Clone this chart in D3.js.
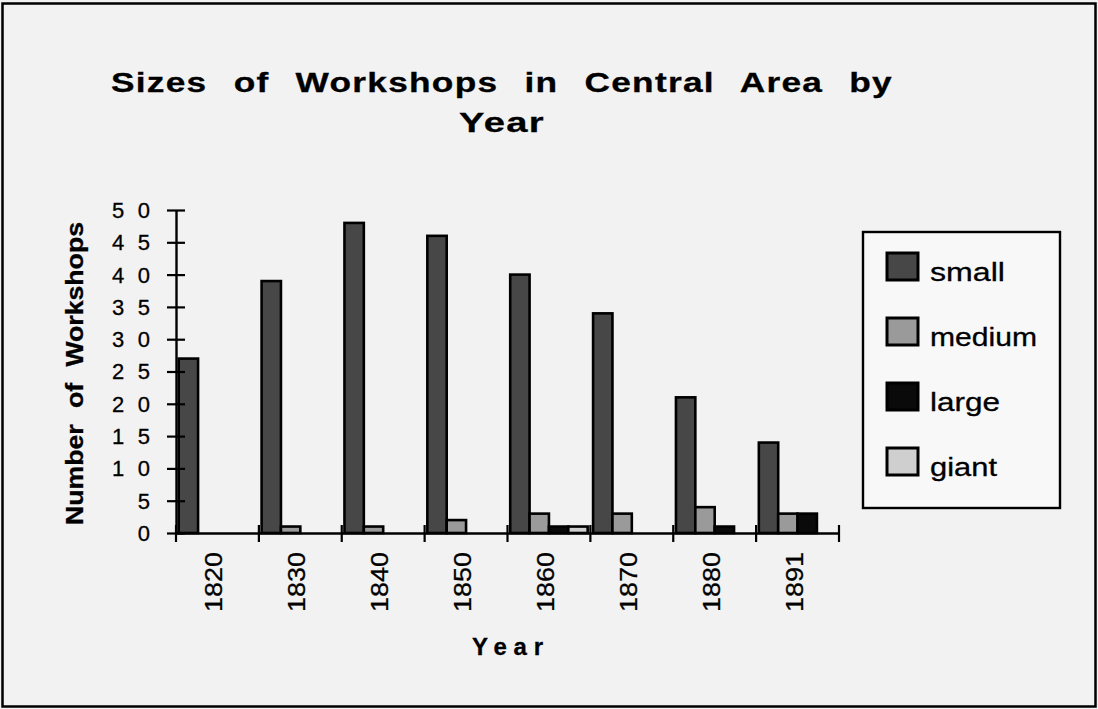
<!DOCTYPE html>
<html>
<head>
<meta charset="utf-8">
<script src="https://cdn.jsdelivr.net/npm/d3@7"></script>
<style>
  html, body { margin: 0; padding: 0; background: #f2f2f2; }
  svg { display: block; }
  text { font-family: "Liberation Sans", Arial, Helvetica, sans-serif; fill: #000; }
</style>
</head>
<body>
<script>
// ---- data ----
const years = ["1820", "1830", "1840", "1850", "1860", "1870", "1880", "1891"];
const seriesNames = ["small", "medium", "large", "giant"];
const small  = [27, 39, 48, 46, 40, 34, 21, 14];
const medium = [0, 1, 1, 2, 3, 3, 4, 3];
const large  = [0, 0, 0, 0, 1, 0, 1, 3];
const giant  = [0, 0, 0, 0, 1, 0, 0, 0];
const yTickValues = [0, 5, 10, 15, 20, 25, 30, 35, 40, 45, 50];
const seriesValues = [small, medium, large, giant];
const seriesColors = ["#474747", "#9a9a9a", "#0a0a0a", "#cfcfcf"];

const W = 1098, H = 709;
const svg = d3.select("body").append("svg").attr("width", W).attr("height", H);

svg.append("rect").attr("x", 0).attr("y", 0).attr("width", W).attr("height", H).attr("fill", "#f2f2f2");
svg.append("rect").attr("x", 2.5).attr("y", 3.5).attr("width", W - 5).attr("height", H - 6)
  .attr("fill", "none").attr("stroke", "#000").attr("stroke-width", 2.5);

// stretch text (glyphs and gaps) to a target length, with optional extra word gap
function fit(sel, target, wordGap) {
  sel.each(function() {
    const t = d3.select(this);
    if (wordGap) t.attr("word-spacing", wordGap);
    t.attr("textLength", target).attr("lengthAdjust", "spacingAndGlyphs");
  });
}

// title
svg.append("text").attr("x", 111).attr("y", 92)
  .attr("font-size", 28).attr("font-weight", "bold")
  .attr("stroke", "#000").attr("stroke-width", 0.3)
  .attr("letter-spacing", 1)
  .text("Sizes of Workshops in Central Area by").call(fit, 782, 12);
svg.append("text").attr("x", 459).attr("y", 132)
  .attr("font-size", 28).attr("font-weight", "bold")
  .attr("stroke", "#000").attr("stroke-width", 0.3)
  .attr("letter-spacing", 1)
  .text("Year").call(fit, 86);

// scales
const x = d3.scaleBand().domain(years).range([176, 839]).paddingInner(0).paddingOuter(0);
const xs = d3.scaleBand().domain(seriesNames).range([0, x.bandwidth()]).paddingInner(0).paddingOuter(0.14);
const y = d3.scaleLinear().domain([0, 50]).range([533, 210]);

// bars
const rows = [];
years.forEach((yr, i) => {
  seriesNames.forEach((s, j) => {
    const v = seriesValues[j][i];
    if (v > 0) rows.push({ year: yr, series: s, value: v, color: seriesColors[j] });
  });
});
svg.append("g").selectAll("rect").data(rows).join("rect")
  .attr("x", d => x(d.year) + xs(d.series))
  .attr("y", d => y(d.value))
  .attr("width", xs.bandwidth())
  .attr("height", d => y(0) - y(d.value))
  .attr("fill", d => d.color)
  .attr("stroke", "#000").attr("stroke-width", 2.6);

// y axis
const yAxisG = svg.append("g").attr("transform", "translate(176,0)")
  .call(d3.axisLeft(y).tickValues(yTickValues).tickSize(9).tickSizeOuter(0).tickFormat(""));
yAxisG.select(".domain").attr("stroke", "#000").attr("stroke-width", 2.4);
yAxisG.selectAll(".tick line").attr("stroke", "#000").attr("stroke-width", 2.2).attr("x2", 9).attr("x1", -9);

svg.append("g").selectAll("text").data(yTickValues).join("text")
  .attr("x", 150).attr("y", d => y(d)).attr("dy", "0.36em")
  .attr("text-anchor", "end").attr("font-size", 22)
  .attr("stroke", "#000").attr("stroke-width", 0.3)
  .each(function(d) {
    const s = String(d);
    const t = d3.select(this).text(s);
    if (s.length > 1) t.attr("textLength", 38).attr("lengthAdjust", "spacing");
  });

// x axis
const xAxisG = svg.append("g").attr("transform", "translate(0,533)")
  .call(d3.axisBottom(x).tickSize(0).tickFormat(""));
xAxisG.select(".domain").attr("stroke", "#000").attr("stroke-width", 2.4);
xAxisG.selectAll(".tick").remove();
const boundaries = years.map(d => x(d)).concat([x(years[years.length - 1]) + x.bandwidth()]);
svg.append("g").selectAll("line").data(boundaries).join("line")
  .attr("x1", d => d).attr("x2", d => d).attr("y1", 525).attr("y2", 542)
  .attr("stroke", "#000").attr("stroke-width", 2.2);

svg.append("g").selectAll("text").data(years).join("text")
  .attr("transform", d => `translate(${x(d) + x.bandwidth() / 2 + 5},612) rotate(-90)`)
  .attr("font-size", 24)
  .attr("stroke", "#000").attr("stroke-width", 0.3)
  .text(d => d).call(fit, 60);

// axis titles
svg.append("text").attr("x", 472).attr("y", 655)
  .attr("font-size", 24).attr("font-weight", "bold")
  .attr("stroke", "#000").attr("stroke-width", 0.3)
  .attr("textLength", 71).attr("lengthAdjust", "spacing")
  .text("Year");
svg.append("text").attr("transform", "translate(83,525) rotate(-90)")
  .attr("font-size", 24).attr("font-weight", "bold")
  .attr("stroke", "#000").attr("stroke-width", 0.3)
  .text("Number of Workshops").call(fit, 303, 8);

// legend
const legend = svg.append("g");
legend.append("rect").attr("x", 863).attr("y", 232).attr("width", 197).attr("height", 276)
  .attr("fill", "#f8f8f8").attr("stroke", "#000").attr("stroke-width", 2.4);
const legY = d3.scalePoint().domain(seriesNames).range([253, 448]);
const labelLens = { small: 75, medium: 107, large: 70, giant: 67 };
const items = legend.selectAll("g.item").data(seriesNames).join("g").attr("class", "item");
items.append("rect")
  .attr("x", 887).attr("y", d => legY(d)).attr("width", 31).attr("height", 27)
  .attr("fill", (d, i) => seriesColors[i]).attr("stroke", "#000").attr("stroke-width", 3);
items.append("text")
  .attr("x", 930).attr("y", d => legY(d) + 28)
  .attr("font-size", 26)
  .attr("stroke", "#000").attr("stroke-width", 0.3)
  .text(d => d)
  .each(function(d) { d3.select(this).call(fit, labelLens[d]); });
</script>
</body>
</html>
